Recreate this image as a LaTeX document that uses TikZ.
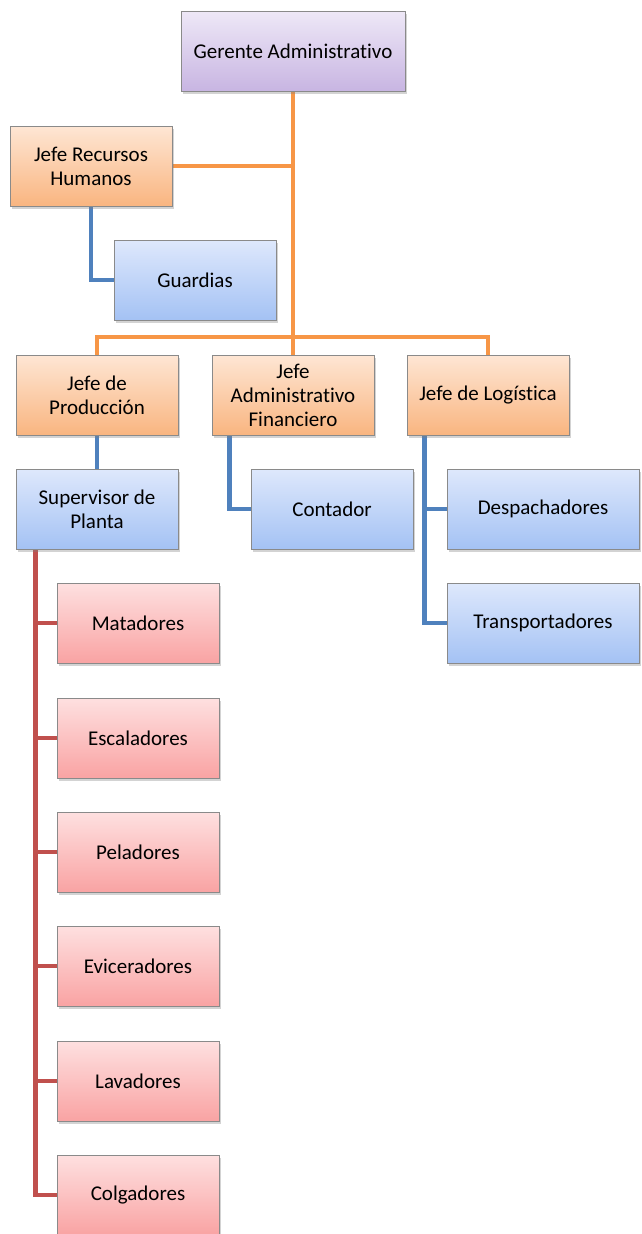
\documentclass[tikz,border=0pt]{standalone}
\usepackage{fontspec}
\setmainfont{Carlito}[Ligatures=NoCommon]
\usetikzlibrary{shadows,backgrounds}
\definecolor{lineO}{HTML}{F79646}
\definecolor{lineB}{HTML}{4F81BD}
\definecolor{lineR}{HTML}{C0504D}
\definecolor{bord}{HTML}{8A8A8A}
\definecolor{pTop}{RGB}{238,232,247}
\definecolor{pBot}{RGB}{200,181,226}
\definecolor{oTop}{RGB}{254,230,212}
\definecolor{oBot}{RGB}{249,181,128}
\definecolor{bTop}{RGB}{222,232,252}
\definecolor{bBot}{RGB}{164,194,244}
\definecolor{rTop}{RGB}{254,224,224}
\definecolor{rBot}{RGB}{249,163,163}
\tikzset{
  box/.style={draw=bord, line width=0.8pt, minimum width=162pt, minimum height=80pt,
    align=center, inner sep=2pt, font=\fontsize{21}{24}\selectfont,
    drop shadow={opacity=0.35, shadow xshift=2pt, shadow yshift=-3pt}},
  purplebox/.style={box, top color=pTop, bottom color=pBot},
  orangebox/.style={box, top color=oTop, bottom color=oBot},
  bluebox/.style={box, top color=bTop, bottom color=bBot},
  redbox/.style={box, top color=rTop, bottom color=rBot},
  conn/.style={line width=4.5pt},
  oline/.style={conn, draw=lineO},
  bline/.style={conn, draw=lineB},
  rline/.style={conn, draw=lineR}
}
\begin{document}
\begin{tikzpicture}[x=1pt,y=-1pt]
\useasboundingbox (0,0) rectangle (641,1234);
\coordinate (bus) at (293,337);
\node[purplebox, minimum width=224pt] (ger) at (293,51) {Gerente Administrativo};
\node[orangebox] (rh) at (91,166) {Jefe Recursos\\Humanos};
\node[bluebox] (gu) at (195,280) {Guardias};
\node[orangebox] (jp) at (97,395) {Jefe de\\Producción};
\node[orangebox] (jaf) at (293,395) {Jefe\\Administrativo\\Financiero};
\node[orangebox] (jl) at (488,395) {Jefe de Logística};
\node[bluebox] (sp) at (97,509) {Supervisor de\\Planta};
\node[bluebox] (co) at (332,509) {Contador};
\node[bluebox, minimum width=192pt] (de) at (543,509) {Despachadores};
\node[bluebox, minimum width=192pt] (tr) at (543,623) {Transportadores};
\node[redbox] (m1) at (138,623) {Matadores};
\node[redbox] (m2) at (138,738) {Escaladores};
\node[redbox] (m3) at (138,852) {Peladores};
\node[redbox] (m4) at (138,966) {Eviceradores};
\node[redbox] (m5) at (138,1081) {Lavadores};
\node[redbox] (m6) at (138,1195) {Colgadores};
\begin{pgfonlayer}{background}
% orange
\draw[oline] (ger.south) -- (jaf.north);
\draw[oline] (rh.east) -- (rh.east -| ger.south);
\draw[oline] (jp.north) |- (bus) -| (jl.north);
% blue
\draw[bline] (rh.south) |- (gu.west);
\draw[bline] (jp.south) -- (sp.north);
\draw[bline] ([xshift=18pt]jaf.south west) |- (co.west);
\draw[bline] ([xshift=18pt]jl.south west) |- (tr.west);
\draw[bline] ([xshift=16pt]jl.south west |- de.west) -- (de.west);
% red
\draw[rline] ([xshift=20pt]sp.south west) |- (m6.west);
\foreach \n in {m1,m2,m3,m4,m5}
  \draw[rline] ([xshift=18pt]sp.south west |- \n.west) -- (\n.west);
\end{pgfonlayer}
\end{tikzpicture}
\end{document}
